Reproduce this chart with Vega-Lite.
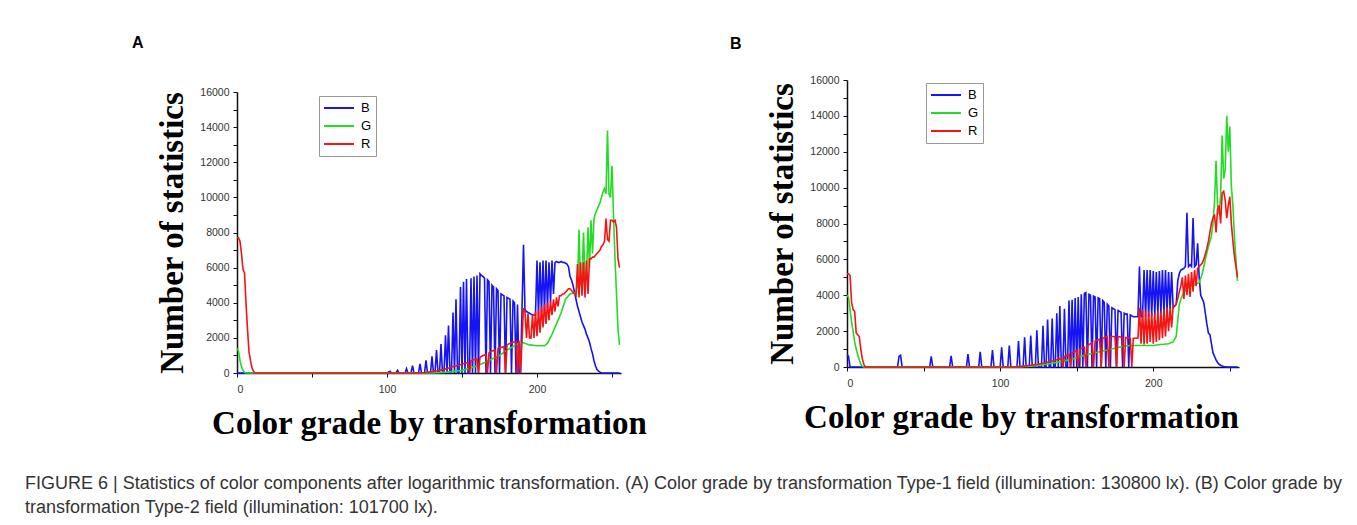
{
"$schema": "https://vega.github.io/schema/vega-lite/v6.json",
"background": "white",
"padding": {"left": 25, "top": 35, "right": 5, "bottom": 5},
"title": {"text": ["FIGURE 6 | Statistics of color components after logarithmic transformation. (A) Color grade by transformation Type-1 field (illumination: 130800 lx). (B) Color grade by", "transformation Type-2 field (illumination: 101700 lx)."], "orient": "bottom", "anchor": "start", "dx": -107, "offset": 34, "font": "Liberation Sans", "fontSize": 18, "fontWeight": "normal", "color": "#333333", "lineHeight": 24},
"datasets": {
"A": [
{"s":"B","g":0,"v":0},{"s":"B","g":100,"v":0},{"s":"B","g":102,"v":100},{"s":"B","g":103,"v":0},{"s":"B","g":106,"v":0},{"s":"B","g":107,"v":150},{"s":"B","g":108,"v":0},{"s":"B","g":112,"v":0},{"s":"B","g":113,"v":250},{"s":"B","g":114,"v":0},{"s":"B","g":116,"v":0},{"s":"B","g":117,"v":420},{"s":"B","g":118,"v":0},{"s":"B","g":121,"v":0},{"s":"B","g":122,"v":520},{"s":"B","g":123,"v":0},{"s":"B","g":125,"v":0},{"s":"B","g":126,"v":720},{"s":"B","g":127,"v":0},{"s":"B","g":129,"v":0},{"s":"B","g":130,"v":950},{"s":"B","g":131,"v":0},{"s":"B","g":132,"v":0},{"s":"B","g":133,"v":1300},{"s":"B","g":134,"v":0},{"s":"B","g":135,"v":0},{"s":"B","g":136,"v":1650},{"s":"B","g":137,"v":0},{"s":"B","g":138,"v":0},{"s":"B","g":139,"v":2150},{"s":"B","g":140,"v":0},{"s":"B","g":141,"v":2700},{"s":"B","g":142,"v":0},{"s":"B","g":143,"v":0},{"s":"B","g":144,"v":3450},{"s":"B","g":145,"v":0},{"s":"B","g":146,"v":4200},{"s":"B","g":147,"v":0},{"s":"B","g":148,"v":0},{"s":"B","g":149,"v":4900},{"s":"B","g":150,"v":0},{"s":"B","g":151,"v":5200},{"s":"B","g":152,"v":0},{"s":"B","g":153,"v":5350},{"s":"B","g":154,"v":0},{"s":"B","g":155,"v":0},{"s":"B","g":156,"v":5400},{"s":"B","g":157,"v":0},{"s":"B","g":158,"v":5500},{"s":"B","g":159,"v":0},{"s":"B","g":160,"v":5550},{"s":"B","g":161,"v":0},{"s":"B","g":162,"v":5650},{"s":"B","g":163,"v":5550},{"s":"B","g":164,"v":5500},{"s":"B","g":165,"v":5400},{"s":"B","g":166,"v":0},{"s":"B","g":167,"v":5300},{"s":"B","g":168,"v":5200},{"s":"B","g":169,"v":0},{"s":"B","g":170,"v":5000},{"s":"B","g":171,"v":4900},{"s":"B","g":172,"v":0},{"s":"B","g":173,"v":4800},{"s":"B","g":174,"v":4700},{"s":"B","g":175,"v":0},{"s":"B","g":176,"v":4500},{"s":"B","g":177,"v":4450},{"s":"B","g":178,"v":4400},{"s":"B","g":179,"v":0},{"s":"B","g":180,"v":4300},{"s":"B","g":181,"v":4250},{"s":"B","g":182,"v":4200},{"s":"B","g":183,"v":0},{"s":"B","g":184,"v":4100},{"s":"B","g":185,"v":4000},{"s":"B","g":186,"v":0},{"s":"B","g":187,"v":3900},{"s":"B","g":188,"v":0},{"s":"B","g":189,"v":0},{"s":"B","g":190,"v":3600},{"s":"B","g":191,"v":7300},{"s":"B","g":192,"v":3600},{"s":"B","g":193,"v":3500},{"s":"B","g":194,"v":3450},{"s":"B","g":195,"v":3400},{"s":"B","g":196,"v":3350},{"s":"B","g":197,"v":3300},{"s":"B","g":198,"v":3300},{"s":"B","g":199,"v":3300},{"s":"B","g":200,"v":6400},{"s":"B","g":201,"v":3300},{"s":"B","g":202,"v":6300},{"s":"B","g":203,"v":3400},{"s":"B","g":204,"v":6400},{"s":"B","g":205,"v":3500},{"s":"B","g":206,"v":6400},{"s":"B","g":207,"v":3700},{"s":"B","g":208,"v":6300},{"s":"B","g":209,"v":4000},{"s":"B","g":210,"v":6400},{"s":"B","g":211,"v":4500},{"s":"B","g":212,"v":6300},{"s":"B","g":213,"v":6350},{"s":"B","g":214,"v":6300},{"s":"B","g":215,"v":6300},{"s":"B","g":216,"v":6350},{"s":"B","g":217,"v":6300},{"s":"B","g":218,"v":6300},{"s":"B","g":219,"v":6250},{"s":"B","g":220,"v":6200},{"s":"B","g":221,"v":6050},{"s":"B","g":222,"v":5500},{"s":"B","g":223,"v":5300},{"s":"B","g":224,"v":5000},{"s":"B","g":225,"v":4600},{"s":"B","g":226,"v":4200},{"s":"B","g":227,"v":3800},{"s":"B","g":228,"v":3500},{"s":"B","g":229,"v":3200},{"s":"B","g":230,"v":2900},{"s":"B","g":231,"v":2700},{"s":"B","g":232,"v":2500},{"s":"B","g":233,"v":2200},{"s":"B","g":234,"v":2000},{"s":"B","g":235,"v":1750},{"s":"B","g":236,"v":1400},{"s":"B","g":237,"v":1100},{"s":"B","g":238,"v":700},{"s":"B","g":239,"v":400},{"s":"B","g":240,"v":200},{"s":"B","g":241,"v":100},{"s":"B","g":242,"v":50},{"s":"B","g":243,"v":0},{"s":"B","g":255,"v":0},
{"s":"G","g":0,"v":1400},{"s":"G","g":1,"v":1250},{"s":"G","g":2,"v":700},{"s":"G","g":3,"v":350},{"s":"G","g":4,"v":150},{"s":"G","g":5,"v":50},{"s":"G","g":6,"v":0},{"s":"G","g":130,"v":0},{"s":"G","g":140,"v":50},{"s":"G","g":150,"v":150},{"s":"G","g":160,"v":400},{"s":"G","g":165,"v":600},{"s":"G","g":170,"v":800},{"s":"G","g":175,"v":1000},{"s":"G","g":180,"v":1300},{"s":"G","g":185,"v":1550},{"s":"G","g":188,"v":1700},{"s":"G","g":190,"v":1750},{"s":"G","g":195,"v":1600},{"s":"G","g":200,"v":1550},{"s":"G","g":205,"v":1550},{"s":"G","g":207,"v":1700},{"s":"G","g":210,"v":2200},{"s":"G","g":213,"v":2800},{"s":"G","g":216,"v":3400},{"s":"G","g":219,"v":4200},{"s":"G","g":222,"v":4500},{"s":"G","g":226,"v":4600},{"s":"G","g":227,"v":5000},{"s":"G","g":228,"v":8150},{"s":"G","g":229,"v":5000},{"s":"G","g":230,"v":5200},{"s":"G","g":231,"v":8000},{"s":"G","g":232,"v":5400},{"s":"G","g":233,"v":5500},{"s":"G","g":234,"v":8300},{"s":"G","g":235,"v":6000},{"s":"G","g":236,"v":8700},{"s":"G","g":237,"v":6800},{"s":"G","g":238,"v":8800},{"s":"G","g":239,"v":9100},{"s":"G","g":240,"v":9300},{"s":"G","g":241,"v":9500},{"s":"G","g":242,"v":9700},{"s":"G","g":243,"v":10000},{"s":"G","g":244,"v":10300},{"s":"G","g":245,"v":10500},{"s":"G","g":246,"v":10200},{"s":"G","g":247,"v":13800},{"s":"G","g":248,"v":10200},{"s":"G","g":249,"v":10000},{"s":"G","g":250,"v":11800},{"s":"G","g":251,"v":9000},{"s":"G","g":252,"v":6500},{"s":"G","g":253,"v":4500},{"s":"G","g":254,"v":2500},{"s":"G","g":255,"v":1600},
{"s":"R","g":0,"v":7700},{"s":"R","g":1,"v":7700},{"s":"R","g":2,"v":7500},{"s":"R","g":3,"v":6800},{"s":"R","g":4,"v":5900},{"s":"R","g":5,"v":5700},{"s":"R","g":6,"v":4000},{"s":"R","g":7,"v":2500},{"s":"R","g":8,"v":1200},{"s":"R","g":9,"v":700},{"s":"R","g":10,"v":300},{"s":"R","g":11,"v":100},{"s":"R","g":12,"v":0},{"s":"R","g":120,"v":0},{"s":"R","g":125,"v":30},{"s":"R","g":130,"v":80},{"s":"R","g":135,"v":150},{"s":"R","g":140,"v":250},{"s":"R","g":142,"v":300},{"s":"R","g":144,"v":350},{"s":"R","g":146,"v":400},{"s":"R","g":148,"v":450},{"s":"R","g":150,"v":500},{"s":"R","g":152,"v":550},{"s":"R","g":154,"v":600},{"s":"R","g":155,"v":0},{"s":"R","g":156,"v":700},{"s":"R","g":158,"v":750},{"s":"R","g":160,"v":800},{"s":"R","g":161,"v":0},{"s":"R","g":162,"v":900},{"s":"R","g":164,"v":1000},{"s":"R","g":166,"v":1050},{"s":"R","g":167,"v":0},{"s":"R","g":168,"v":1150},{"s":"R","g":170,"v":1250},{"s":"R","g":172,"v":1300},{"s":"R","g":173,"v":0},{"s":"R","g":174,"v":1400},{"s":"R","g":176,"v":1450},{"s":"R","g":178,"v":1500},{"s":"R","g":179,"v":0},{"s":"R","g":180,"v":1600},{"s":"R","g":182,"v":1700},{"s":"R","g":184,"v":1750},{"s":"R","g":186,"v":1800},{"s":"R","g":187,"v":0},{"s":"R","g":188,"v":1850},{"s":"R","g":189,"v":0},{"s":"R","g":190,"v":1800},{"s":"R","g":191,"v":3700},{"s":"R","g":192,"v":3500},{"s":"R","g":193,"v":2000},{"s":"R","g":194,"v":3400},{"s":"R","g":195,"v":2000},{"s":"R","g":196,"v":2000},{"s":"R","g":197,"v":3300},{"s":"R","g":198,"v":2000},{"s":"R","g":199,"v":3500},{"s":"R","g":200,"v":2100},{"s":"R","g":201,"v":3600},{"s":"R","g":202,"v":2300},{"s":"R","g":203,"v":3800},{"s":"R","g":204,"v":2600},{"s":"R","g":205,"v":3900},{"s":"R","g":206,"v":2800},{"s":"R","g":207,"v":4000},{"s":"R","g":208,"v":3000},{"s":"R","g":209,"v":4100},{"s":"R","g":210,"v":3300},{"s":"R","g":211,"v":4200},{"s":"R","g":212,"v":3500},{"s":"R","g":213,"v":4300},{"s":"R","g":214,"v":3800},{"s":"R","g":215,"v":4400},{"s":"R","g":216,"v":4400},{"s":"R","g":217,"v":4500},{"s":"R","g":218,"v":4500},{"s":"R","g":219,"v":4600},{"s":"R","g":220,"v":4700},{"s":"R","g":221,"v":4800},{"s":"R","g":222,"v":4800},{"s":"R","g":223,"v":4700},{"s":"R","g":224,"v":4600},{"s":"R","g":225,"v":4500},{"s":"R","g":226,"v":4400},{"s":"R","g":227,"v":6200},{"s":"R","g":228,"v":4300},{"s":"R","g":229,"v":6300},{"s":"R","g":230,"v":4400},{"s":"R","g":231,"v":6300},{"s":"R","g":232,"v":4300},{"s":"R","g":233,"v":6400},{"s":"R","g":234,"v":4500},{"s":"R","g":235,"v":6500},{"s":"R","g":236,"v":6500},{"s":"R","g":237,"v":6600},{"s":"R","g":238,"v":6600},{"s":"R","g":239,"v":6700},{"s":"R","g":240,"v":6800},{"s":"R","g":241,"v":6900},{"s":"R","g":242,"v":7000},{"s":"R","g":243,"v":7200},{"s":"R","g":244,"v":7300},{"s":"R","g":245,"v":7500},{"s":"R","g":246,"v":8800},{"s":"R","g":247,"v":7600},{"s":"R","g":248,"v":7500},{"s":"R","g":249,"v":8700},{"s":"R","g":250,"v":8700},{"s":"R","g":251,"v":8600},{"s":"R","g":252,"v":8700},{"s":"R","g":253,"v":8300},{"s":"R","g":254,"v":6500},{"s":"R","g":255,"v":6000}
],
"B": [
{"s":"B","g":0,"v":700},{"s":"B","g":1,"v":600},{"s":"B","g":2,"v":0},{"s":"B","g":33,"v":0},{"s":"B","g":34,"v":600},{"s":"B","g":35,"v":650},{"s":"B","g":36,"v":0},{"s":"B","g":54,"v":0},{"s":"B","g":55,"v":600},{"s":"B","g":56,"v":0},{"s":"B","g":67,"v":0},{"s":"B","g":68,"v":620},{"s":"B","g":69,"v":0},{"s":"B","g":78,"v":0},{"s":"B","g":79,"v":720},{"s":"B","g":80,"v":0},{"s":"B","g":86,"v":0},{"s":"B","g":87,"v":850},{"s":"B","g":88,"v":0},{"s":"B","g":94,"v":0},{"s":"B","g":95,"v":950},{"s":"B","g":96,"v":0},{"s":"B","g":100,"v":0},{"s":"B","g":101,"v":1100},{"s":"B","g":102,"v":0},{"s":"B","g":105,"v":0},{"s":"B","g":106,"v":1200},{"s":"B","g":107,"v":0},{"s":"B","g":111,"v":0},{"s":"B","g":112,"v":1450},{"s":"B","g":113,"v":0},{"s":"B","g":115,"v":0},{"s":"B","g":116,"v":1650},{"s":"B","g":117,"v":0},{"s":"B","g":119,"v":0},{"s":"B","g":120,"v":1750},{"s":"B","g":121,"v":0},{"s":"B","g":123,"v":0},{"s":"B","g":124,"v":2050},{"s":"B","g":125,"v":0},{"s":"B","g":127,"v":0},{"s":"B","g":128,"v":2300},{"s":"B","g":129,"v":0},{"s":"B","g":130,"v":0},{"s":"B","g":131,"v":2650},{"s":"B","g":132,"v":0},{"s":"B","g":133,"v":0},{"s":"B","g":134,"v":2700},{"s":"B","g":135,"v":0},{"s":"B","g":136,"v":0},{"s":"B","g":137,"v":3000},{"s":"B","g":138,"v":0},{"s":"B","g":139,"v":3400},{"s":"B","g":140,"v":0},{"s":"B","g":141,"v":0},{"s":"B","g":142,"v":3250},{"s":"B","g":143,"v":0},{"s":"B","g":144,"v":0},{"s":"B","g":145,"v":3700},{"s":"B","g":146,"v":0},{"s":"B","g":147,"v":3750},{"s":"B","g":148,"v":0},{"s":"B","g":149,"v":3850},{"s":"B","g":150,"v":0},{"s":"B","g":151,"v":3900},{"s":"B","g":152,"v":0},{"s":"B","g":153,"v":4050},{"s":"B","g":154,"v":0},{"s":"B","g":155,"v":4100},{"s":"B","g":156,"v":4150},{"s":"B","g":157,"v":0},{"s":"B","g":158,"v":4050},{"s":"B","g":159,"v":4000},{"s":"B","g":160,"v":0},{"s":"B","g":161,"v":3950},{"s":"B","g":162,"v":3900},{"s":"B","g":163,"v":0},{"s":"B","g":164,"v":3850},{"s":"B","g":165,"v":3800},{"s":"B","g":166,"v":0},{"s":"B","g":167,"v":3700},{"s":"B","g":168,"v":3600},{"s":"B","g":169,"v":0},{"s":"B","g":170,"v":3500},{"s":"B","g":171,"v":3400},{"s":"B","g":172,"v":0},{"s":"B","g":173,"v":3300},{"s":"B","g":174,"v":3250},{"s":"B","g":175,"v":3200},{"s":"B","g":176,"v":0},{"s":"B","g":177,"v":3150},{"s":"B","g":178,"v":3100},{"s":"B","g":179,"v":3050},{"s":"B","g":180,"v":0},{"s":"B","g":181,"v":3000},{"s":"B","g":182,"v":2950},{"s":"B","g":183,"v":2950},{"s":"B","g":184,"v":0},{"s":"B","g":185,"v":2900},{"s":"B","g":186,"v":2850},{"s":"B","g":187,"v":2800},{"s":"B","g":188,"v":2800},{"s":"B","g":189,"v":2800},{"s":"B","g":190,"v":2800},{"s":"B","g":191,"v":5600},{"s":"B","g":192,"v":2800},{"s":"B","g":193,"v":2800},{"s":"B","g":194,"v":5400},{"s":"B","g":195,"v":2800},{"s":"B","g":196,"v":5400},{"s":"B","g":197,"v":2800},{"s":"B","g":198,"v":5400},{"s":"B","g":199,"v":2850},{"s":"B","g":200,"v":5350},{"s":"B","g":201,"v":2900},{"s":"B","g":202,"v":5300},{"s":"B","g":203,"v":2950},{"s":"B","g":204,"v":5350},{"s":"B","g":205,"v":3000},{"s":"B","g":206,"v":5400},{"s":"B","g":207,"v":3000},{"s":"B","g":208,"v":5400},{"s":"B","g":209,"v":3100},{"s":"B","g":210,"v":5300},{"s":"B","g":211,"v":3200},{"s":"B","g":212,"v":5300},{"s":"B","g":213,"v":3300},{"s":"B","g":214,"v":3400},{"s":"B","g":215,"v":3500},{"s":"B","g":216,"v":4800},{"s":"B","g":217,"v":5200},{"s":"B","g":218,"v":5400},{"s":"B","g":219,"v":5450},{"s":"B","g":220,"v":5500},{"s":"B","g":221,"v":5600},{"s":"B","g":222,"v":8600},{"s":"B","g":223,"v":5600},{"s":"B","g":224,"v":5700},{"s":"B","g":225,"v":5600},{"s":"B","g":226,"v":8300},{"s":"B","g":227,"v":5600},{"s":"B","g":228,"v":5700},{"s":"B","g":229,"v":6900},{"s":"B","g":230,"v":5000},{"s":"B","g":231,"v":4000},{"s":"B","g":232,"v":3800},{"s":"B","g":233,"v":3600},{"s":"B","g":234,"v":3000},{"s":"B","g":235,"v":2400},{"s":"B","g":236,"v":1900},{"s":"B","g":237,"v":1800},{"s":"B","g":238,"v":1300},{"s":"B","g":239,"v":800},{"s":"B","g":240,"v":600},{"s":"B","g":241,"v":400},{"s":"B","g":242,"v":250},{"s":"B","g":243,"v":150},{"s":"B","g":244,"v":100},{"s":"B","g":245,"v":60},{"s":"B","g":246,"v":30},{"s":"B","g":248,"v":0},{"s":"B","g":255,"v":0},
{"s":"G","g":0,"v":4000},{"s":"G","g":1,"v":3900},{"s":"G","g":2,"v":3200},{"s":"G","g":3,"v":2500},{"s":"G","g":4,"v":2000},{"s":"G","g":5,"v":1400},{"s":"G","g":6,"v":1000},{"s":"G","g":7,"v":700},{"s":"G","g":8,"v":400},{"s":"G","g":9,"v":150},{"s":"G","g":10,"v":50},{"s":"G","g":11,"v":0},{"s":"G","g":110,"v":0},{"s":"G","g":120,"v":50},{"s":"G","g":130,"v":150},{"s":"G","g":140,"v":300},{"s":"G","g":150,"v":500},{"s":"G","g":155,"v":650},{"s":"G","g":160,"v":750},{"s":"G","g":165,"v":850},{"s":"G","g":170,"v":950},{"s":"G","g":175,"v":1050},{"s":"G","g":180,"v":1150},{"s":"G","g":185,"v":1200},{"s":"G","g":190,"v":1200},{"s":"G","g":195,"v":1200},{"s":"G","g":200,"v":1200},{"s":"G","g":205,"v":1250},{"s":"G","g":210,"v":1300},{"s":"G","g":213,"v":1400},{"s":"G","g":215,"v":1700},{"s":"G","g":217,"v":3500},{"s":"G","g":219,"v":4000},{"s":"G","g":221,"v":4300},{"s":"G","g":224,"v":4500},{"s":"G","g":227,"v":4600},{"s":"G","g":230,"v":4700},{"s":"G","g":232,"v":5200},{"s":"G","g":234,"v":6000},{"s":"G","g":236,"v":6700},{"s":"G","g":238,"v":7300},{"s":"G","g":239,"v":8000},{"s":"G","g":240,"v":9200},{"s":"G","g":241,"v":11500},{"s":"G","g":242,"v":9000},{"s":"G","g":243,"v":8500},{"s":"G","g":244,"v":9500},{"s":"G","g":245,"v":12900},{"s":"G","g":246,"v":10500},{"s":"G","g":247,"v":11000},{"s":"G","g":248,"v":14000},{"s":"G","g":249,"v":12000},{"s":"G","g":250,"v":13400},{"s":"G","g":251,"v":10100},{"s":"G","g":252,"v":9000},{"s":"G","g":253,"v":7300},{"s":"G","g":254,"v":6000},{"s":"G","g":255,"v":4800},
{"s":"R","g":0,"v":5200},{"s":"R","g":1,"v":5200},{"s":"R","g":2,"v":5100},{"s":"R","g":3,"v":3600},{"s":"R","g":4,"v":3200},{"s":"R","g":5,"v":3100},{"s":"R","g":6,"v":1900},{"s":"R","g":7,"v":1800},{"s":"R","g":8,"v":1700},{"s":"R","g":9,"v":1000},{"s":"R","g":10,"v":450},{"s":"R","g":11,"v":150},{"s":"R","g":12,"v":0},{"s":"R","g":110,"v":0},{"s":"R","g":115,"v":50},{"s":"R","g":120,"v":100},{"s":"R","g":125,"v":150},{"s":"R","g":130,"v":250},{"s":"R","g":135,"v":350},{"s":"R","g":140,"v":500},{"s":"R","g":141,"v":0},{"s":"R","g":142,"v":600},{"s":"R","g":145,"v":700},{"s":"R","g":146,"v":0},{"s":"R","g":147,"v":800},{"s":"R","g":150,"v":900},{"s":"R","g":151,"v":0},{"s":"R","g":152,"v":1000},{"s":"R","g":155,"v":1100},{"s":"R","g":156,"v":0},{"s":"R","g":157,"v":1200},{"s":"R","g":160,"v":1350},{"s":"R","g":161,"v":0},{"s":"R","g":162,"v":1450},{"s":"R","g":165,"v":1550},{"s":"R","g":166,"v":0},{"s":"R","g":167,"v":1600},{"s":"R","g":170,"v":1700},{"s":"R","g":171,"v":0},{"s":"R","g":172,"v":1700},{"s":"R","g":175,"v":1700},{"s":"R","g":176,"v":0},{"s":"R","g":177,"v":1700},{"s":"R","g":180,"v":1650},{"s":"R","g":181,"v":0},{"s":"R","g":182,"v":1650},{"s":"R","g":185,"v":1600},{"s":"R","g":186,"v":0},{"s":"R","g":187,"v":1600},{"s":"R","g":190,"v":1600},{"s":"R","g":191,"v":3300},{"s":"R","g":192,"v":1300},{"s":"R","g":193,"v":3200},{"s":"R","g":194,"v":1250},{"s":"R","g":195,"v":3100},{"s":"R","g":196,"v":1300},{"s":"R","g":197,"v":3100},{"s":"R","g":198,"v":1400},{"s":"R","g":199,"v":3000},{"s":"R","g":200,"v":1300},{"s":"R","g":201,"v":3000},{"s":"R","g":202,"v":1400},{"s":"R","g":203,"v":3100},{"s":"R","g":204,"v":1500},{"s":"R","g":205,"v":3100},{"s":"R","g":206,"v":1600},{"s":"R","g":207,"v":3200},{"s":"R","g":208,"v":1700},{"s":"R","g":209,"v":3300},{"s":"R","g":210,"v":2000},{"s":"R","g":211,"v":3300},{"s":"R","g":212,"v":2200},{"s":"R","g":213,"v":3400},{"s":"R","g":214,"v":3400},{"s":"R","g":215,"v":3500},{"s":"R","g":216,"v":3800},{"s":"R","g":217,"v":4200},{"s":"R","g":218,"v":4500},{"s":"R","g":219,"v":5000},{"s":"R","g":220,"v":3800},{"s":"R","g":221,"v":5100},{"s":"R","g":222,"v":4000},{"s":"R","g":223,"v":5200},{"s":"R","g":224,"v":3900},{"s":"R","g":225,"v":5300},{"s":"R","g":226,"v":4200},{"s":"R","g":227,"v":5400},{"s":"R","g":228,"v":4500},{"s":"R","g":229,"v":5500},{"s":"R","g":230,"v":5600},{"s":"R","g":231,"v":5700},{"s":"R","g":232,"v":5800},{"s":"R","g":233,"v":6000},{"s":"R","g":234,"v":6300},{"s":"R","g":235,"v":6600},{"s":"R","g":236,"v":7000},{"s":"R","g":237,"v":7500},{"s":"R","g":238,"v":8000},{"s":"R","g":239,"v":8300},{"s":"R","g":240,"v":8500},{"s":"R","g":241,"v":7500},{"s":"R","g":242,"v":8800},{"s":"R","g":243,"v":9000},{"s":"R","g":244,"v":8000},{"s":"R","g":245,"v":9700},{"s":"R","g":246,"v":9800},{"s":"R","g":247,"v":9300},{"s":"R","g":248,"v":8300},{"s":"R","g":249,"v":9000},{"s":"R","g":250,"v":9500},{"s":"R","g":251,"v":8000},{"s":"R","g":252,"v":7000},{"s":"R","g":253,"v":6200},{"s":"R","g":254,"v":5600},{"s":"R","g":255,"v":5000}
]
},
"spacing": 83,
"resolve": {"legend": {"color": "independent"}, "scale": {"color": "independent"}},
"hconcat": [
{
"width": 384, "height": 293,
"title": {"text": "A", "anchor": "start", "frame": "group", "dx": -105, "offset": 29, "font": "Liberation Sans", "fontSize": 16, "fontWeight": "bold", "color": "black"},
"data": {"name": "A"},
"mark": {"type": "line", "strokeWidth": 1.6},
"encoding": {
"x": {"field": "g", "type": "quantitative", "scale": {"domain": [0, 256], "nice": false}, "axis": {"title": "Color grade by transformation", "values": [0, 50, 100, 150, 200, 250], "labelExpr": "datum.value % 100 === 0 ? datum.label : ''"}},
"y": {"field": "v", "type": "quantitative", "scale": {"domain": [0, 16000], "range": [293, 12], "nice": false}, "axis": {"title": "Number of statistics", "format": "d", "values": [0,1000,2000,3000,4000,5000,6000,7000,8000,9000,10000,11000,12000,13000,14000,15000,16000], "labelExpr": "datum.value % 2000 === 0 ? datum.label : ''"}},
"color": {"field": "s", "type": "nominal", "scale": {"domain": ["B", "G", "R"], "range": ["#1414f5", "#22dd22", "#f51414"]}, "legend": {"title": null, "orient": "none", "legendX": 82, "legendY": 16}}
}
},
{
"width": 392, "height": 287,
"title": {"text": "B", "anchor": "start", "frame": "group", "dx": -117, "offset": 23, "font": "Liberation Sans", "fontSize": 16, "fontWeight": "bold", "color": "black"},
"data": {"name": "B"},
"mark": {"type": "line", "strokeWidth": 1.6},
"encoding": {
"x": {"field": "g", "type": "quantitative", "scale": {"domain": [0, 256], "nice": false}, "axis": {"title": "Color grade by transformation", "titleX": 174, "values": [0, 50, 100, 150, 200, 250], "labelExpr": "datum.value % 100 === 0 ? datum.label : ''"}},
"y": {"field": "v", "type": "quantitative", "scale": {"domain": [0, 16000], "nice": false}, "axis": {"title": "Number of statistics", "format": "d", "values": [0,1000,2000,3000,4000,5000,6000,7000,8000,9000,10000,11000,12000,13000,14000,15000,16000], "labelExpr": "datum.value % 2000 === 0 ? datum.label : ''"}},
"color": {"field": "s", "type": "nominal", "scale": {"domain": ["B", "G", "R"], "range": ["#1414f5", "#22dd22", "#f51414"]}, "legend": {"title": null, "orient": "none", "legendX": 79, "legendY": 3}}
}
}
],
"config": {
"font": "Liberation Sans",
"view": {"stroke": null},
"axis": {"grid": false, "domainColor": "#111111", "domainWidth": 1.5, "tickColor": "#111111", "tickSize": 4, "tickWidth": 1, "labelFont": "Liberation Sans", "labelFontSize": 10.5, "labelColor": "#333333", "titleFont": "Liberation Serif", "titleFontSize": 33, "titleFontWeight": "bold", "titleColor": "black"},
"axisX": {"titlePadding": 13, "labelPadding": 7},
"axisY": {"titlePadding": 10, "labelPadding": 4},
"legend": {"symbolType": "stroke", "symbolSize": 900, "symbolStrokeWidth": 2, "clipHeight": 16, "labelFont": "Liberation Sans", "labelFontSize": 13, "labelColor": "black", "strokeColor": "#999999", "fillColor": "white", "padding": 4, "rowPadding": 2, "labelOffset": 6}
}
}
